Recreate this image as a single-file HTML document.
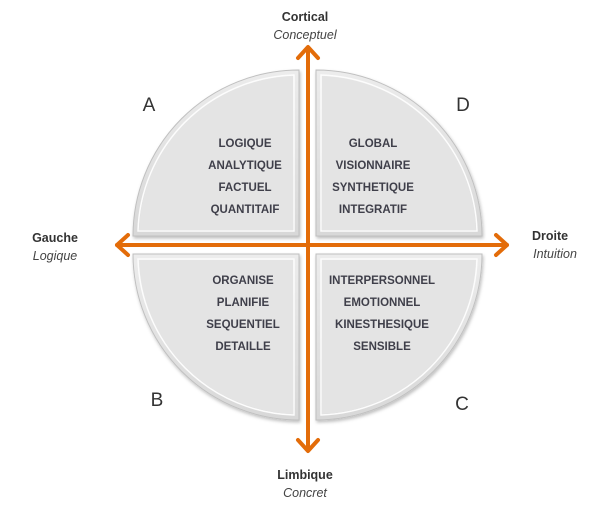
<!DOCTYPE html>
<html><head><meta charset="utf-8"><style>
html,body{margin:0;padding:0;background:#fff;}
svg{display:block;}
text{font-family:"Liberation Sans",sans-serif;}
.q{font-weight:bold;font-size:11.5px;fill:#3f3f4a;text-anchor:middle;}
.t{font-weight:bold;font-size:12.5px;fill:#333;text-anchor:middle;}
.i{font-style:italic;font-size:12.5px;fill:#444;text-anchor:middle;}
.l{font-size:19px;fill:#333;text-anchor:middle;}
</style></head><body>
<svg width="610" height="517" viewBox="0 0 610 517">
<defs>
<linearGradient id="g" x1="0" y1="0" x2="0" y2="1"><stop offset="0" stop-color="#ececec"/><stop offset="1" stop-color="#d8d8d8"/></linearGradient>
<filter id="s" x="-10%" y="-10%" width="120%" height="120%"><feDropShadow dx="1" dy="2" stdDeviation="1.5" flood-color="#000" flood-opacity="0.25"/></filter>
</defs>
<g filter="url(#s)" fill="url(#g)" stroke="#c0c0c0" stroke-width="1">
<path d="M299,236 L133,236 A166,166 0 0 1 299,70 Z"/>
<path d="M316,236 L316,70 A166,166 0 0 1 482,236 Z"/>
<path d="M299,254 L299,420 A166,166 0 0 1 133,254 Z"/>
<path d="M316,254 L482,254 A166,166 0 0 1 316,420 Z"/>
</g>
<g fill="none" stroke="#fcfcfc" stroke-width="1.5">
<path d="M294,231 L138,231 A161,161 0 0 1 294,75 Z"/>
<path d="M321,231 L321,75 A161,161 0 0 1 477,231 Z"/>
<path d="M294,259 L294,415 A161,161 0 0 1 138,259 Z"/>
<path d="M321,259 L477,259 A161,161 0 0 1 321,415 Z"/>
</g>
<g fill="#e4e4e4" stroke="none">
<path d="M293,230 L139,230 A160,160 0 0 1 293,76 Z"/>
<path d="M322,230 L322,76 A160,160 0 0 1 476,230 Z"/>
<path d="M293,260 L293,414 A160,160 0 0 1 139,260 Z"/>
<path d="M322,260 L476,260 A160,160 0 0 1 322,414 Z"/>
</g>
<g stroke="#e36c09" stroke-width="4" fill="none" stroke-linecap="round" stroke-linejoin="round">
<line x1="308" y1="48" x2="308" y2="450"/>
<line x1="117" y1="245" x2="507" y2="245"/>
<polyline points="298,58 308,47 318,58"/>
<polyline points="298,440 308,451 318,440"/>
<polyline points="128,235 117,245 128,255"/>
<polyline points="496,235 507,245 496,255"/>
</g>
<text class="q" x="245" y="147">LOGIQUE</text>
<text class="q" x="245" y="169">ANALYTIQUE</text>
<text class="q" x="245" y="191">FACTUEL</text>
<text class="q" x="245" y="213">QUANTITAIF</text>
<text class="q" x="373" y="147">GLOBAL</text>
<text class="q" x="373" y="169">VISIONNAIRE</text>
<text class="q" x="373" y="191">SYNTHETIQUE</text>
<text class="q" x="373" y="213">INTEGRATIF</text>
<text class="q" x="243" y="284">ORGANISE</text>
<text class="q" x="243" y="306">PLANIFIE</text>
<text class="q" x="243" y="328">SEQUENTIEL</text>
<text class="q" x="243" y="350">DETAILLE</text>
<text class="q" x="382" y="284">INTERPERSONNEL</text>
<text class="q" x="382" y="306">EMOTIONNEL</text>
<text class="q" x="382" y="328">KINESTHESIQUE</text>
<text class="q" x="382" y="350">SENSIBLE</text>
<text class="l" x="149" y="111">A</text>
<text class="l" x="463" y="111">D</text>
<text class="l" x="157" y="406">B</text>
<text class="l" x="462" y="410">C</text>
<text class="t" x="305" y="21">Cortical</text>
<text class="i" x="305" y="39">Conceptuel</text>
<text class="t" x="305" y="479">Limbique</text>
<text class="i" x="305" y="497">Concret</text>
<text class="t" x="55" y="242">Gauche</text>
<text class="i" x="55" y="260">Logique</text>
<text class="t" x="550" y="240">Droite</text>
<text class="i" x="555" y="258">Intuition</text>
</svg>
</body></html>
